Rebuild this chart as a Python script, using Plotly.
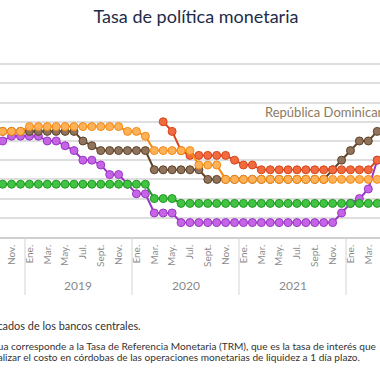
import plotly.graph_objects as go

# Monthly categories (Oct 2018 - Apr 2022)
months = [
    "2018-10", "2018-11", "2018-12",
    "2019-01", "2019-02", "2019-03", "2019-04", "2019-05", "2019-06",
    "2019-07", "2019-08", "2019-09", "2019-10", "2019-11", "2019-12",
    "2020-01", "2020-02", "2020-03", "2020-04", "2020-05", "2020-06",
    "2020-07", "2020-08", "2020-09", "2020-10", "2020-11", "2020-12",
    "2021-01", "2021-02", "2021-03", "2021-04", "2021-05", "2021-06",
    "2021-07", "2021-08", "2021-09", "2021-10", "2021-11", "2021-12",
    "2022-01", "2022-02", "2022-03", "2022-04",
]

tick_vals = [
    "2018-11",
    "2019-01", "2019-03", "2019-05", "2019-07", "2019-09", "2019-11",
    "2020-01", "2020-03", "2020-05", "2020-07", "2020-09", "2020-11",
    "2021-01", "2021-03", "2021-05", "2021-07", "2021-09", "2021-11",
    "2022-01", "2022-03",
]
tick_text = [
    "Nov.",
    "Ene.", "Mar.", "May.", "Jul.", "Sept.", "Nov.",
    "Ene.", "Mar.", "May.", "Jul.", "Sept.", "Nov.",
    "Ene.", "Mar.", "May.", "Jul.", "Sept.", "Nov.",
    "Ene.", "Mar.",
]

years = ["2019", "2020", "2021"]
year_mid = [8.5, 20.5, 32.5]          # category index of the middle of each year
year_breaks = [2.5, 14.5, 26.5, 38.5]  # between December and January

costa_rica = [
    5.0, 5.25, 5.25,
    5.25, 5.25, 5.0, 5.0, 4.75, 4.5, 4.0, 4.0, 3.75, 3.25, 3.25, 2.75,
    2.25, 2.25, 1.25, 1.25, 1.25, 0.75, 0.75, 0.75, 0.75, 0.75, 0.75, 0.75,
    0.75, 0.75, 0.75, 0.75, 0.75, 0.75, 0.75, 0.75, 0.75, 0.75, 0.75, 1.25,
    1.75, 2.0, 2.5, 4.0,
]
rep_dominicana = [
    5.5, 5.5, 5.5,
    5.5, 5.5, 5.5, 5.5, 5.5, 5.5, 5.0, 4.75, 4.5, 4.5, 4.5, 4.5,
    4.5, 4.5, 3.5, 3.5, 3.5, 3.5, 3.5, 3.5, 3.0, 3.0, 3.0, 3.0,
    3.0, 3.0, 3.0, 3.0, 3.0, 3.0, 3.0, 3.0, 3.0, 3.0, 3.5, 4.0,
    4.5, 5.0, 5.0, 5.5,
]
nicaragua = [
    None, None, None,
    None, None, None, None, None, None, None, None, None, None, None, None,
    None, None, None, 6.0, 5.5, 4.5, 4.25, 4.25, 4.25, 4.25, 4.25, 4.0,
    3.75, 3.75, 3.5, 3.5, 3.5, 3.5, 3.5, 3.5, 3.5, 3.5, 3.5, 3.5,
    3.5, 3.5, 3.5, 4.0,
]
honduras = [
    5.5, 5.5, 5.5,
    5.75, 5.75, 5.75, 5.75, 5.75, 5.75, 5.75, 5.75, 5.75, 5.75, 5.75, 5.5,
    5.5, 5.25, 4.5, 4.5, 4.5, 4.5, 4.5, 3.75, 3.75, 3.75, 3.0, 3.0,
    3.0, 3.0, 3.0, 3.0, 3.0, 3.0, 3.0, 3.0, 3.0, 3.0, 3.0, 3.0,
    3.0, 3.0, 3.0, 3.0,
]
guatemala = [
    2.75, 2.75, 2.75,
    2.75, 2.75, 2.75, 2.75, 2.75, 2.75, 2.75, 2.75, 2.75, 2.75, 2.75, 2.75,
    2.75, 2.75, 2.0, 2.0, 2.0, 1.75, 1.75, 1.75, 1.75, 1.75, 1.75, 1.75,
    1.75, 1.75, 1.75, 1.75, 1.75, 1.75, 1.75, 1.75, 1.75, 1.75, 1.75, 1.75,
    1.75, 1.75, 1.75, 1.75,
]

series = [
    ("Costa Rica", costa_rica, "#9A35C4", "#C565E6"),
    ("República Dominicana", rep_dominicana, "#5E4329", "#8F735C"),
    ("Nicaragua", nicaragua, "#D8461B", "#F26A3F"),
    ("Honduras", honduras, "#F58A12", "#FDB25A"),
    ("Guatemala", guatemala, "#1F9A22", "#43C343"),
]

FONT = "Lato"

fig = go.Figure()
for name, vals, lc, mc in series:
    fig.add_trace(go.Scatter(
        x=months, y=vals, name=name, mode="lines+markers",
        line=dict(color=lc, width=2),
        marker=dict(size=8, color=mc, line=dict(color=lc, width=1)),
        showlegend=False, connectgaps=False,
    ))

shapes = []
for b in year_breaks:
    shapes.append(dict(type="line", xref="x", yref="paper", x0=b, x1=b,
                       y0=0, y1=-0.30, line=dict(color="#D3D3D3", width=1)))

annotations = []
for yr, mid in zip(years, year_mid):
    annotations.append(dict(text=yr, x=mid, xref="x", y=-0.25, yref="paper",
                            showarrow=False, xanchor="center", yanchor="middle",
                            font=dict(family=FONT, size=12, color="#8A8A8A")))

annotations.append(dict(text="República Dominicana", x=29.2, xref="x", y=6.5, yref="y",
                        showarrow=False, xanchor="left", yanchor="middle",
                        font=dict(family=FONT, size=13, color="#8C7A5E")))

annotations.append(dict(
    text="Fuente: elaboración propia con datos publicados de los bancos centrales.",
    x=143 / 380, xref="paper", y=-0.458, yref="paper", showarrow=False,
    xanchor="right", yanchor="middle",
    font=dict(family=FONT, size=10.9, color="#333333")))
annotations.append(dict(
    text="Nota: la tasa de Nicaragua corresponde a la Tasa de Referencia Monetaria (TRM), que es la tasa de interés que",
    x=378 / 380, xref="paper", y=-0.566, yref="paper", showarrow=False,
    xanchor="right", yanchor="middle",
    font=dict(family=FONT, size=10.1, color="#333333")))
annotations.append(dict(
    text="el Banco Central de Nicaragua utiliza para señalizar el costo en córdobas de las operaciones monetarias de liquidez a 1 día plazo.",
    x=362 / 380, xref="paper", y=-0.623, yref="paper", showarrow=False,
    xanchor="right", yanchor="middle",
    font=dict(family=FONT, size=10.1, color="#333333")))

fig.update_layout(
    width=380, height=380,
    margin=dict(l=0, r=0, t=44, b=143),
    paper_bgcolor="white", plot_bgcolor="white",
    title=dict(text="Tasa de política monetaria", x=196 / 380, xanchor="center",
               y=1 - 17 / 380, yanchor="middle",
               font=dict(family=FONT, size=18, color="#1E2B48")),
    xaxis=dict(type="category", categoryorder="array", categoryarray=months,
               range=[-0.30, 42.31], tickmode="array", tickvals=tick_vals,
               ticktext=tick_text, tickangle=-90, showgrid=False,
               showline=True, linecolor="#CFCFCF", linewidth=1.5,
               ticks="", ticklabelstandoff=2,
               tickfont=dict(family=FONT, size=10, color="#8A8A8A")),
    yaxis=dict(range=[0, 10.05], tickmode="array", tickvals=[1, 2, 3, 4, 5, 6, 7, 8, 9, 10],
               showticklabels=False,
               showgrid=True, gridcolor="#DEDEDE", gridwidth=1.5,
               zeroline=False, showline=False),
    shapes=shapes, annotations=annotations,
)

fig.write_html("out.html", config={"displayModeBar": False},
               post_script="document.body.style.margin='0px';document.body.style.overflow='hidden';")
